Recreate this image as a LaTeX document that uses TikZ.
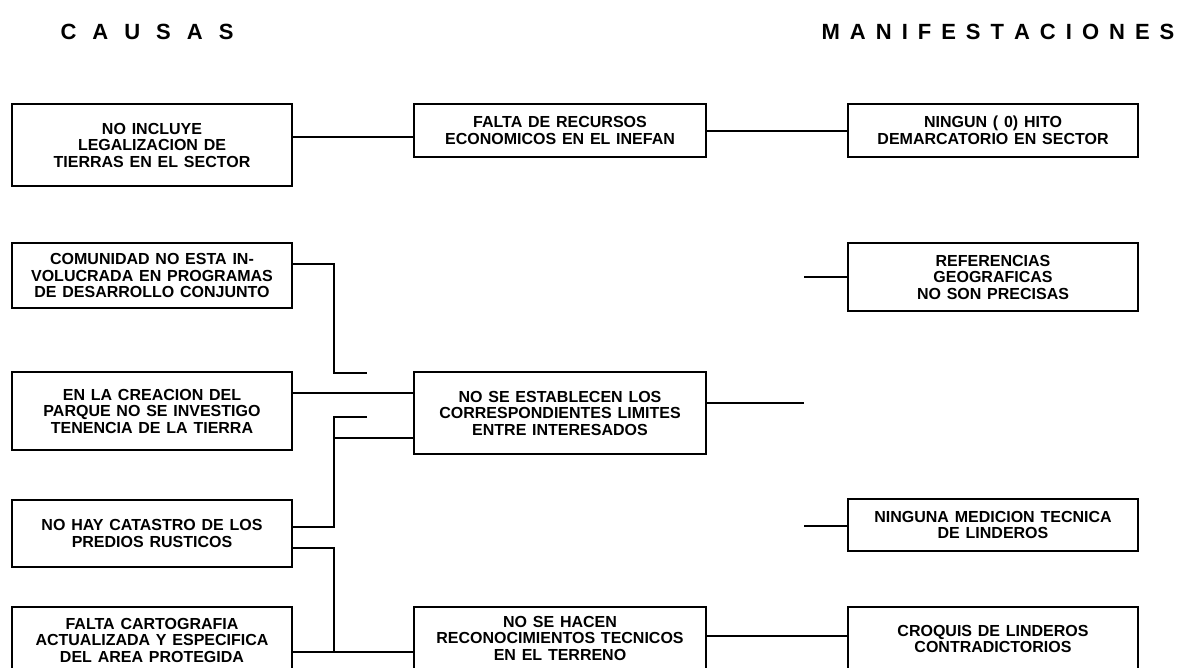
\documentclass[tikz,border=0pt]{standalone}
\usepackage{fontspec}
\setmainfont{Liberation Sans}[WordSpace=1.3]
\usetikzlibrary{positioning}

\newcommand{\cg}{\hspace{16pt}}
\newcommand{\mg}{\hspace{10pt}}

\tikzset{
  box/.style={draw, line width=1.5pt, align=center, inner sep=0pt,
    font=\bfseries\fontsize{16}{16.5}\selectfont},
  link/.style={line width=1.5pt},
  title/.style={font=\bfseries\fontsize{22}{24}\selectfont},
}

\begin{document}
\begin{tikzpicture}[x=1pt, y=-1pt]
  \useasboundingbox (0,0) rectangle (1185,667);
  \clip (0,0) rectangle (1185,667);

  % headings
  \node[title] (causas) at (147,32) {C\cg A\cg U\cg S\cg A\cg S};
  \node[title] (manif) at (998,32) {M\mg A\mg N\mg I\mg F\mg E\mg S\mg T\mg A\mg C\mg I\mg O\mg N\mg E\mg S};

  % first row
  \node[box, minimum width=280, minimum height=82] (noIncluye) at (152,145)
    {NO INCLUYE\\LEGALIZACION DE\\TIERRAS EN EL SECTOR};
  \node[box, minimum width=292, minimum height=53] (faltaRec) at (560,130.5)
    {FALTA DE RECURSOS\\ECONOMICOS EN EL INEFAN};
  \node[box, minimum width=290, minimum height=53] (ningunHito) at (993,130.5)
    {NINGUN ( 0) HITO\\DEMARCATORIO EN SECTOR};

  % causes on the left
  \node[box, minimum width=280, minimum height=65] (comunidad) at (152,275.5)
    {COMUNIDAD NO ESTA IN-\\VOLUCRADA EN PROGRAMAS\\DE DESARROLLO CONJUNTO};
  \node[box, minimum width=280, minimum height=78] (creacion) at (152,411)
    {EN LA CREACION DEL\\PARQUE NO SE INVESTIGO\\TENENCIA DE LA TIERRA};
  \node[box, minimum width=280, minimum height=67] (catastro) at (152,533.5)
    {NO HAY CATASTRO DE LOS\\PREDIOS RUSTICOS};
  \node[box, minimum width=280, minimum height=66] (faltaCarto) at (152,640)
    {FALTA CARTOGRAFIA\\ACTUALIZADA Y ESPECIFICA\\DEL AREA PROTEGIDA};

  % middle column
  \node[box, minimum width=292, minimum height=82] (noEstablecen) at (560,413)
    {NO SE ESTABLECEN LOS\\CORRESPONDIENTES LIMITES\\ENTRE INTERESADOS};
  \node[box, minimum width=292, minimum height=62] (noHacen) at (560,638)
    {NO SE HACEN\\RECONOCIMIENTOS TECNICOS\\EN EL TERRENO};

  % manifestations on the right
  \node[box, minimum width=290, minimum height=68] (referencias) at (993,277)
    {REFERENCIAS\\GEOGRAFICAS\\NO SON PRECISAS};
  \node[box, minimum width=290, minimum height=52] (ningunaMed) at (993,525)
    {NINGUNA MEDICION TECNICA\\DE LINDEROS};
  \node[box, minimum width=290, minimum height=64] (croquis) at (993,639)
    {CROQUIS DE LINDEROS\\CONTRADICTORIOS};

  % bus points and loose ends
  \coordinate (jTop) at (334,373);
  \coordinate (jMid) at (334,438);
  \coordinate (jLow) at (334,527);
  \coordinate (jBot) at (334,652);
  \coordinate (endUp) at (367,373);
  \coordinate (endMid) at (367,417);
  \coordinate (endRight) at (804,403);
  \coordinate (refIn) at (804,277);
  \coordinate (medIn) at (804,526);

  % connectors
  \draw[link] (noIncluye.east |- 0,137) -- (faltaRec.west |- 0,137);
  \draw[link] (faltaRec.east |- 0,131) -- (ningunHito.west |- 0,131);
  \draw[link] (comunidad.east |- 0,264) -| (jTop) -- (endUp);
  \draw[link] (creacion.east |- 0,393) -- (noEstablecen.west |- 0,393);
  \draw[link] (endMid) -| (jLow) -- (catastro.east |- jLow);
  \draw[link] (jMid) -- (noEstablecen.west |- jMid);
  \draw[link] (catastro.east |- 0,548) -| (jBot);
  \draw[link] (faltaCarto.east |- jBot) -- (noHacen.west |- jBot);
  \draw[link] (noEstablecen.east |- 0,403) -- (endRight);
  \draw[link] (refIn) -- (referencias.west |- refIn);
  \draw[link] (medIn) -- (ningunaMed.west |- medIn);
  \draw[link] (noHacen.east |- 0,636) -- (croquis.west |- 0,636);
\end{tikzpicture}
\end{document}
